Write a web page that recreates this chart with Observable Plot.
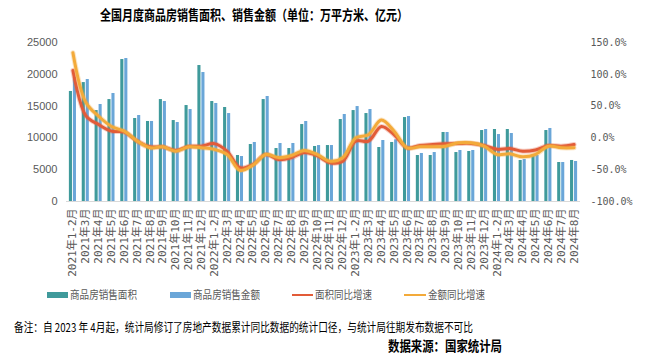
<!DOCTYPE html>
<html><head><meta charset="utf-8">
<script src="https://cdn.jsdelivr.net/npm/d3@7"></script>
<script src="https://cdn.jsdelivr.net/npm/@observablehq/plot@0.6"></script>
<style>
body{margin:0;background:#fff;}
#wrap{position:relative;width:650px;height:359px;overflow:hidden;background:#fff;font-family:"Noto Sans CJK SC","Liberation Sans",sans-serif;}
.t{position:absolute;white-space:nowrap;line-height:1;transform-origin:0 50%;}
#chart{position:absolute;left:0;top:30px;}
.sw{position:absolute;}
</style></head><body><div id="wrap">
<div class="t" data-w="308" style="left:100px;top:7px;font-size:14px;font-weight:bold;color:#000">全国月度商品房销售面积、销售金额（单位：万平方米、亿元）</div>
<div id="chart"></div>
<div class="sw" style="left:47px;top:292px;width:21px;height:6px;background:#3F9A9B"></div>
<div class="t" data-w="67" style="left:70px;top:289px;font-size:11px;color:#595959">商品房销售面积</div>
<div class="sw" style="left:170px;top:292px;width:21px;height:6px;background:#6AA6D8"></div>
<div class="t" data-w="67" style="left:193px;top:289px;font-size:11px;color:#595959">商品房销售金额</div>
<div class="sw" style="left:292px;top:293.5px;width:21px;height:2.5px;background:#E25B38"></div>
<div class="t" data-w="57" style="left:315px;top:289px;font-size:11px;color:#595959">面积同比增速</div>
<div class="sw" style="left:404px;top:293.5px;width:22px;height:2.5px;background:#F3AA3A"></div>
<div class="t" data-w="57" style="left:428px;top:289px;font-size:11px;color:#595959">金额同比增速</div>
<div class="t" data-w="459" style="left:14px;top:320.5px;font-size:12px;color:#000">备注：自 2023 年 4月起，统计局修订了房地产数据累计同比数据的统计口径，与统计局往期发布数据不可比</div>
<div class="t" data-w="114" style="left:388px;top:338px;font-size:14px;font-weight:bold;color:#000">数据来源：国家统计局</div>
</div>
<script>
const categories = [
  "2021年1-2月","2021年3月","2021年4月","2021年5月","2021年6月","2021年7月","2021年8月","2021年9月","2021年10月","2021年11月","2021年12月",
  "2022年1-2月","2022年3月","2022年4月","2022年5月","2022年6月","2022年7月","2022年8月","2022年9月","2022年10月","2022年11月","2022年12月",
  "2023年1-2月","2023年3月","2023年4月","2023年5月","2023年6月","2023年7月","2023年8月","2023年9月","2023年10月","2023年11月","2023年12月",
  "2024年1-2月","2024年3月","2024年4月","2024年5月","2024年6月","2024年7月","2024年8月"
];
// 商品房销售面积（万平方米）
const area = [17300,18700,14300,16030,22320,13050,12580,16030,12730,15090,21380,
  15720,14780,7230,8960,16030,8330,8330,12100,8650,8800,12890,
  14300,13830,8490,9280,13200,7230,7230,10850,7700,7860,11160,
  11320,11320,6450,7230,11160,6130,6450];
// 商品房销售金额（亿元）
const amount = [19500,19180,15250,16980,22480,13520,12580,15720,12420,14460,20280,
  15410,13830,7070,9280,16510,9120,9120,12580,8800,8800,13680,
  14930,14460,9590,9700,13360,7550,7700,10850,8020,8020,11320,
  10530,10690,6600,7230,11480,6130,6290];
// 面积同比增速（%）
const areaYoY = [106,35,21,10.6,9,-5,-14,-14,-20,-13.5,-13,
  -9,-21,-47,-42,-26,-34,-31,-23,-28,-39,-36.6,
  -5,-5,18,5,-15.6,-12,-10.4,-9.3,-8.8,-8.8,-12,
  -18,-16.7,-21,-19,-12,-13,-10.4];
// 金额同比增速（%）
const amountYoY = [134,56,34,18,10.6,-5,-15.6,-14,-21,-14,-15.6,
  -18,-26,-51,-43,-26,-31,-27.7,-19.8,-26,-36.6,-31,
  0,5,28,10.6,-15.6,-14,-14,-13,-7.8,-7.8,-13,
  -26,-25,-29.8,-26,-13,-15.6,-15.6];
const leftTicks = [0,5000,10000,15000,20000,25000];
const rightTickLabels = ["-100.0%","-50.0%","0.0%","50.0%","100.0%","150.0%"];

const data = categories.map((c,i)=>({c, area:area[i], amount:amount[i], ay:areaYoY[i], my:amountYoY[i]}));
// right axis (-100%..150%) shares the left axis range (0..25000)
const pctToY = p => (p + 100) * 100;

const chart = Plot.plot({
  width: 650, height: 255,
  marginTop: 12, marginBottom: 84, marginLeft: 66, marginRight: 70,
  style: {fontFamily: "'Liberation Sans','Noto Sans CJK SC',sans-serif", fontSize: "11px", color: "#595959", background: "transparent"},
  x: {type: "band", domain: categories, paddingInner: 0.76, paddingOuter: 0.38},
  y: {domain: [0, 25000]},
  marks: [
    Plot.barY(data, {x: "c", y: "area", fill: "#3F9A9B", dx: -2}),
    Plot.barY(data, {x: "c", y: "amount", fill: "#6AA6D8", dx: 2}),
    Plot.ruleY([0], {stroke: "#d9d9d9", strokeWidth: 1.2}),
    Plot.line(data, {x: "c", y: d => pctToY(d.ay), stroke: "#E25B38", strokeWidth: 5, strokeOpacity: 0.3, curve: "catmull-rom"}),
    Plot.line(data, {x: "c", y: d => pctToY(d.ay), stroke: "#E25B38", strokeWidth: 3, curve: "catmull-rom"}),
    Plot.line(data, {x: "c", y: d => pctToY(d.my), stroke: "#F3AA3A", strokeWidth: 5, strokeOpacity: 0.3, curve: "catmull-rom"}),
    Plot.line(data, {x: "c", y: d => pctToY(d.my), stroke: "#F3AA3A", strokeWidth: 3, curve: "catmull-rom"}),
    Plot.axisX({tickRotate: -90, tickSize: 0, tickPadding: 7, fontSize: 11, fill: "#595959", fontFamily: "'DejaVu Sans Mono','Noto Sans CJK SC',monospace", label: null}),
    Plot.axisY({anchor: "left", ticks: leftTicks, tickSize: 0, tickPadding: 9, fontSize: 11, fill: "#595959", label: null, tickFormat: d => String(d)}),
    Plot.axisY({anchor: "right", ticks: leftTicks, tickSize: 0, tickPadding: 10, fontSize: 10, fill: "#595959", fontFamily: "'DejaVu Sans Mono',monospace", label: null, tickFormat: (d) => rightTickLabels[leftTicks.indexOf(d)]})
  ]
});
document.getElementById("chart").appendChild(chart);

document.querySelectorAll('.t[data-w]').forEach(el => {
  const w = el.getBoundingClientRect().width;
  el.style.transform = `scaleX(${(+el.dataset.w / w).toFixed(4)})`;
});
</script>
</body></html>
